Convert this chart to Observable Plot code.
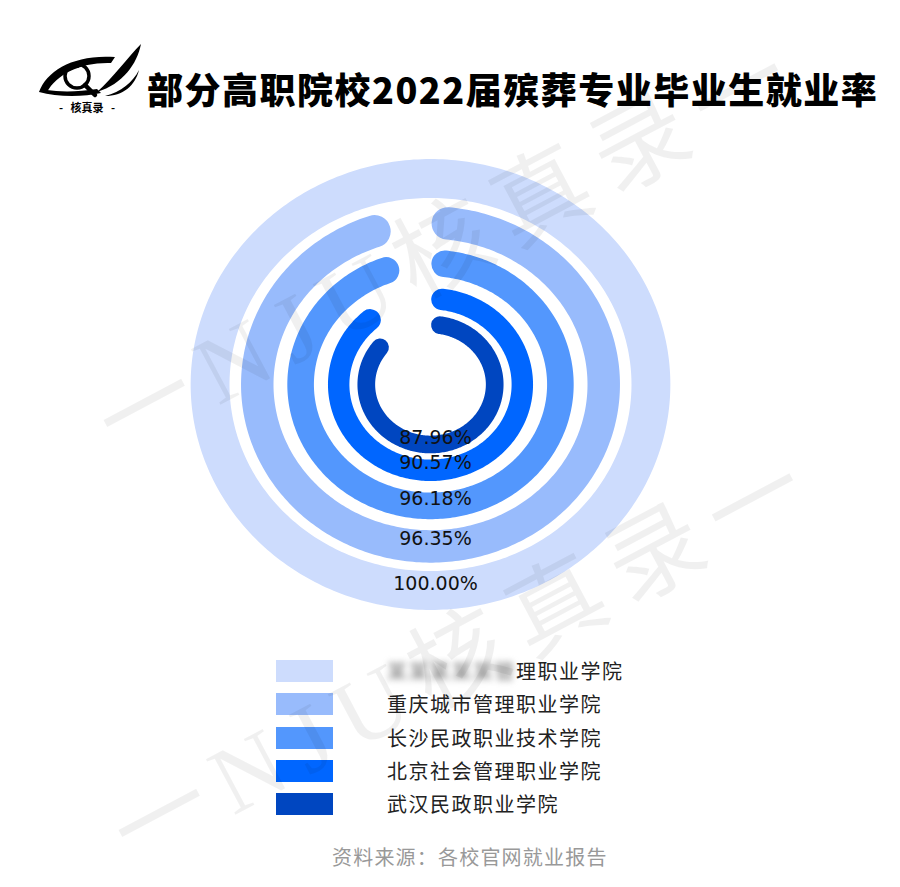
<!DOCTYPE html>
<html>
<head>
<meta charset="utf-8">
<script src="https://cdn.jsdelivr.net/npm/d3@7"></script>
<script src="https://cdn.jsdelivr.net/npm/@observablehq/plot@0.6"></script>
<style>
  html, body { margin: 0; padding: 0; background: #fff; }
  #page { position: relative; width: 900px; height: 887px; overflow: hidden; background: #fff; font-family: "Noto Sans CJK SC", "Noto Sans", sans-serif; }
  #title { position: absolute; left: 147px; top: 68px; font-size: 36px; line-height: 40px; font-weight: 900; letter-spacing: 1.5px; color: #000; white-space: nowrap; font-family: "Noto Sans CJK SC", sans-serif; }
  #chart { position: absolute; left: 0; top: 150px; }
  .legrow { position: absolute; height: 22px; }
  .sw { position: absolute; left: 276px; width: 57px; height: 22px; }
  .lt { position: absolute; left: 387px; top: -1px; font-size: 20px; line-height: 24px; letter-spacing: 1.5px; color: #222; white-space: nowrap; }
  .blur { filter: blur(3px); color: #777; }
  #caption { position: absolute; left: 332px; top: 844px; font-size: 20px; line-height: 26px; letter-spacing: 1.2px; color: #999; white-space: nowrap; }
  #wm { position: absolute; left: 0; top: 0; pointer-events: none; }
  #logo { position: absolute; left: 35px; top: 40px; }
</style>
</head>
<body>
<div id="page">
  <svg id="logo" width="110" height="80" viewBox="0 0 110 80">
    <path d="M4,52 C12,30 40,14 80,17 L76,23 C46,22 22,34 12,52 Z" fill="#000"/>
    <path d="M4,52 C22,57 48,57 66,53 L62,49 C44,52 24,52 12,50 Z" fill="#000"/>
    <circle cx="42" cy="36" r="12" fill="none" stroke="#000" stroke-width="3.5"/>
    <path d="M35,30 A8,8 0 0 1 44,27" fill="none" stroke="#000" stroke-width="1.5"/>
    <line x1="50" y1="45" x2="60" y2="55" stroke="#000" stroke-width="4.5" stroke-linecap="round"/>
    <path d="M62,52 C78,38 92,18 106,4 C102,24 88,44 62,52 Z" fill="#000"/>
    <path d="M70,56 C86,52 98,42 104,30 C100,46 88,56 70,56 Z" fill="#000"/>
    <text x="52" y="72" text-anchor="middle" font-size="11" font-weight="700" font-family="Noto Sans CJK SC" fill="#000">-&#160;&#160;&#160;核真录&#160;&#160;&#160;-</text>
  </svg>
  <div id="title">部分高职院校2022届殡葬专业毕业生就业率</div>
  <div id="chart"></div>
  <div id="legend"></div>
  <div id="caption">资料来源：各校官网就业报告</div>
  <svg id="wm" width="900" height="887"></svg>
</div>
<script>
// ---- data ----
const schools = ["某某某某某管理职业学院", "重庆城市管理职业学院", "长沙民政职业技术学院", "北京社会管理职业学院", "武汉民政职业学院"];
const rates = [100.00, 96.35, 96.18, 90.57, 87.96];
const colors = ["#cddcfd", "#98bbfc", "#5397fd", "#0066ff", "#0046c0"];
const hiddenChars = 6; // blurred part of the first school name

// ---- layout ----
const W = 900, H = 480, CX = 430, CY = 234, K = 1.07;
const n = rates.length;
const rScale = d3.scalePow().exponent(1.25).domain([0, n - 1]).range([60, 206]);
const widthOf = r => 9 + 0.145 * r;

const rings = rates.map((v, i) => {
  const r = rScale(n - 1 - i);
  const w = widthOf(r);
  const full = v >= 100;
  const cap = full ? 0 : (w / 2) / r;
  const a0 = cap, a1 = full ? 2 * Math.PI : (v / 100) * 2 * Math.PI - cap;
  const steps = Math.ceil((a1 - a0) / (Math.PI / 180));
  const pts = d3.range(steps + 1).map(k => {
    const t = a0 + (a1 - a0) * k / steps;
    return {x: r * Math.sin(t), y: r * Math.cos(t)};
  });
  return {i, r, w, pts, label: v.toFixed(2) + "%", color: colors[i]};
});

const plot = Plot.plot({
  width: W, height: H, margin: 0,
  x: {domain: [-CX / K, (W - CX) / K], axis: null},
  y: {domain: [-(H - CY), CY], axis: null},
  marks: [
    ...rings.map(g => Plot.line(g.pts, {x: "x", y: "y", stroke: g.color, strokeWidth: g.w, strokeLinecap: "round", strokeLinejoin: "round"})),
    Plot.text(rings, {x: () => 0, y: d => -d.r, text: "label", dx: 5, dy: -7, fontSize: 19, fontFamily: "DejaVu Sans", fill: "#111"})
  ]
});
document.getElementById("chart").appendChild(plot);

// legend
const leg = d3.select("#legend");
schools.forEach((s, i) => {
  const row = leg.append("div").attr("class", "legrow").style("top", (660 + i * 33.3) + "px").style("left", "0px").style("width", "900px");
  row.append("div").attr("class", "sw").style("background", colors[i]);
  const t = row.append("div").attr("class", "lt");
  if (i === 0) {
    t.append("span").attr("class", "blur").text(s.slice(0, hiddenChars));
    t.append("span").text(s.slice(hiddenChars));
  } else t.text(s);
});

// watermark
const wm = d3.select("#wm");
[[455, 255], [470, 665]].forEach(([x, y]) => {
  wm.append("text").attr("x", x).attr("y", y).attr("text-anchor", "middle").attr("dominant-baseline", "middle")
    .attr("transform", `rotate(-28 ${x} ${y})`)
    .attr("font-size", 96).attr("letter-spacing", 16)
    .attr("font-family", "Liberation Serif, Noto Sans CJK SC, serif")
    .attr("fill", "#000").attr("fill-opacity", 0.06)
    .text("一NJU核真录一");
});
</script>
</body>
</html>
